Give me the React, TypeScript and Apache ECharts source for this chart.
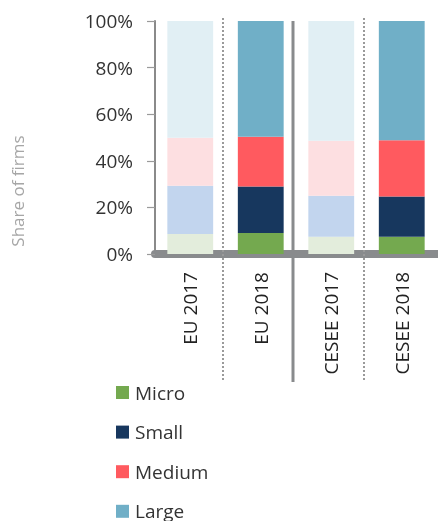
import React, { useEffect, useRef } from "react";
import * as echarts from "echarts";

const categories = ["EU 2017", "EU 2018", "CESEE 2017", "CESEE 2018"];
const seriesNames = ["Micro", "Small", "Medium", "Large"];
const micro = [8.6, 9.0, 7.4, 7.4];
const small = [20.7, 20.0, 17.6, 17.3];
const medium = [20.6, 21.3, 23.6, 24.1];
const large = [50.1, 49.7, 51.4, 51.2];
const yTicks = [0, 20, 40, 60, 80, 100];

const strongColors = ["#74a94f", "#17375e", "#ff5a5f", "#70afc7"];
const fadedColors = ["#e3eddc", "#c2d5ee", "#fddfe1", "#e1eff4"];
const fadedCats = [true, false, true, false];

const FONT = "'Open Sans', 'Noto Sans', sans-serif";

export default function App() {
  const ref = useRef<HTMLDivElement>(null);
  useEffect(() => {
    if (!ref.current) return;
    const chart = echarts.init(ref.current, undefined, { renderer: "svg" });
    const values = [micro, small, medium, large];
    const series = seriesNames.map((name, si) => ({
      name,
      type: "bar",
      stack: "total",
      barCategoryGap: "35%",
      itemStyle: { color: strongColors[si] },
      data: values[si].map((v, ci) => ({
        value: v,
        itemStyle: { color: fadedCats[ci] ? fadedColors[si] : strongColors[si] },
      })),
    }));
    const legends = seriesNames.map((name, i) => ({
      orient: "vertical",
      left: 116,
      top: 383 + i * 39.6,
      padding: 0,
      itemWidth: 13,
      itemHeight: 13,
      icon: "rect",
      selectedMode: false,
      textStyle: { fontSize: 19, color: "#333", fontFamily: FONT, padding: [0, 0, 0, 1] },
      data: [name],
    }));
    chart.setOption({
      animation: false,
      textStyle: { fontFamily: FONT },
      grid: { left: 155, right: 1, top: 21, bottom: 267, containLabel: false },
      legend: legends,
      xAxis: {
        type: "category",
        data: categories,
        axisLine: { show: true, lineStyle: { color: "#898b8d", width: 8 } },
        axisTick: { show: false },
        axisLabel: { rotate: 90, margin: 18, fontSize: 19, color: "#222", fontFamily: FONT },
        splitLine: { show: false },
      },
      yAxis: {
        type: "value",
        min: yTicks[0],
        max: yTicks[yTicks.length - 1],
        interval: 20,
        axisLine: { show: true, lineStyle: { color: "#8a8a8a", width: 2 } },
        axisTick: { show: true, length: 8, lineStyle: { color: "#9a9a9a", width: 1.2 } },
        axisLabel: { formatter: "{value}%", fontSize: 19, color: "#333", margin: 22, fontFamily: FONT },
        splitLine: { show: false },
      },
      series,
    });

    const c0 = chart.convertToPixel({ xAxisIndex: 0 }, categories[0]) as number;
    const c1 = chart.convertToPixel({ xAxisIndex: 0 }, categories[1]) as number;
    const band = c1 - c0;
    const graphics: any[] = [];
    const styles = ["dotted", "solid", "dotted"];
    for (let i = 0; i < 3; i++) {
      const ci = chart.convertToPixel({ xAxisIndex: 0 }, categories[i]) as number;
      const x = Math.round(ci + band / 2 - 3);
      const solid = styles[i] === "solid";
      graphics.push({
        type: "line",
        z: 10,
        shape: { x1: x, y1: solid ? 21 : 18, x2: x, y2: 382 },
        style: solid
          ? { stroke: "#898b8d", lineWidth: 3 }
          : { stroke: "#9a9a9a", lineWidth: 2, lineDash: [2, 2] },
      });
    }
    graphics.push({
      type: "text",
      x: 17,
      y: 191,
      rotation: Math.PI / 2,
      style: {
        text: "Share of firms",
        fill: "#a6a6a6",
        fontSize: 17,
        fontFamily: FONT,
        align: "center",
        verticalAlign: "middle",
      },
    });
    chart.setOption({ graphic: graphics });
    return () => chart.dispose();
  }, []);
  return (
    <div
      ref={ref}
      style={{ position: "fixed", left: 0, top: 0, width: 438, height: 521 }}
    />
  );
}
